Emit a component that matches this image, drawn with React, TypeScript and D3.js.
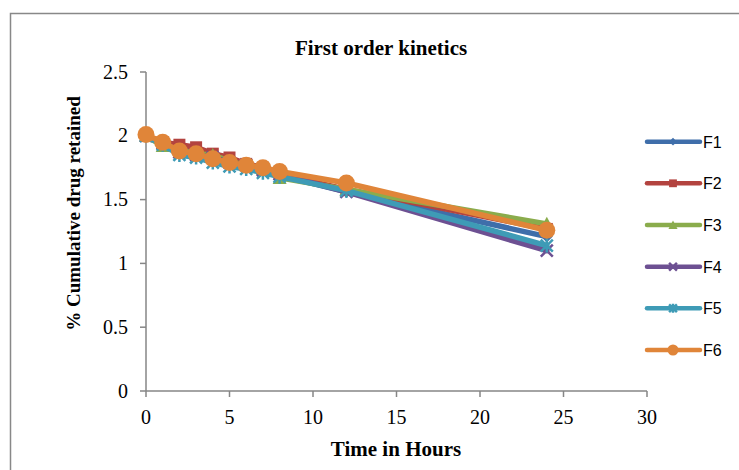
import React from "react";
import * as d3 from "d3";

const times = [0, 1, 2, 3, 4, 5, 6, 7, 8, 12, 24];
const seriesNames = ["F1", "F2", "F3", "F4", "F5", "F6"];
const F1 = [2.0, 1.93, 1.9, 1.87, 1.84, 1.81, 1.78, 1.75, 1.69, 1.56, 1.21];
const F2 = [2.0, 1.95, 1.93, 1.91, 1.86, 1.83, 1.78, 1.75, 1.7, 1.58, 1.27];
const F3 = [2.0, 1.92, 1.89, 1.86, 1.85, 1.8, 1.77, 1.74, 1.67, 1.58, 1.31];
const F4 = [2.0, 1.94, 1.87, 1.85, 1.83, 1.79, 1.77, 1.73, 1.7, 1.56, 1.1];
const F5 = [2.0, 1.93, 1.85, 1.83, 1.79, 1.76, 1.74, 1.71, 1.68, 1.57, 1.14];
const F6 = [2.01, 1.95, 1.88, 1.86, 1.82, 1.79, 1.77, 1.75, 1.72, 1.63, 1.26];
const seriesValues = [F1, F2, F3, F4, F5, F6];
const colors = ["#3f6eaa", "#b3433f", "#8aac4c", "#6d5092", "#3e9bb6", "#e08539"];
const markers = ["diamond", "square", "triangle", "x", "star", "circle"];
const xTicks = [0, 5, 10, 15, 20, 25, 30];
const yTicks = [0, 0.5, 1, 1.5, 2, 2.5];

const W = 739;
const H = 470;
const x = d3.scaleLinear().domain([0, 30]).range([146, 647]);
const y = d3.scaleLinear().domain([0, 2.5]).range([391, 72]);

function Marker({ kind, cx, cy, color, s = 1 }: { kind: string; cx: number; cy: number; color: string; s?: number }) {
  const k = s;
  switch (kind) {
    case "diamond":
      return <path d={`M${cx},${cy - 6 * k}L${cx + 6 * k},${cy}L${cx},${cy + 6 * k}L${cx - 6 * k},${cy}Z`} fill={color} />;
    case "square":
      return <rect x={cx - 6 * k} y={cy - 6 * k} width={12 * k} height={12 * k} fill={color} />;
    case "triangle":
      return <path d={`M${cx},${cy - 7 * k}L${cx + 7 * k},${cy + 6 * k}L${cx - 7 * k},${cy + 6 * k}Z`} fill={color} />;
    case "x":
      return (
        <path
          d={`M${cx - 6 * k},${cy - 6 * k}L${cx + 6 * k},${cy + 6 * k}M${cx + 6 * k},${cy - 6 * k}L${cx - 6 * k},${cy + 6 * k}`}
          stroke={color}
          strokeWidth={2.5}
        />
      );
    case "star":
      return (
        <path
          d={`M${cx - 6 * k},${cy - 6 * k}L${cx + 6 * k},${cy + 6 * k}M${cx + 6 * k},${cy - 6 * k}L${cx - 6 * k},${cy + 6 * k}M${cx},${cy - 7 * k}L${cx},${cy + 7 * k}`}
          stroke={color}
          strokeWidth={2.5}
        />
      );
    default:
      return <circle cx={cx} cy={cy} r={8.5 * k} fill={color} />;
  }
}

export default function App() {
  const line = d3
    .line<number>()
    .x((_, i) => x(times[i]))
    .y((v) => y(v));
  const legendY = [141.7, 183.3, 225, 266.7, 308.3, 350];
  const serif = "'Liberation Serif', 'Times New Roman', serif";
  return (
    <svg width={W} height={H} style={{ position: "absolute", left: 0, top: 0, background: "#fff" }}>
      <rect x={10.5} y={13.5} width={740} height={470} fill="#fff" stroke="#888" strokeWidth={1.5} />
      <text x={381} y={55} textAnchor="middle" fontFamily={serif} fontWeight="bold" fontSize={21}>
        First order kinetics
      </text>
      {/* axes */}
      <line x1={x(0)} x2={x(30)} y1={y(0)} y2={y(0)} stroke="#868686" strokeWidth={1.5} />
      <line x1={x(0)} x2={x(0)} y1={y(0)} y2={y(2.5)} stroke="#868686" strokeWidth={1.5} />
      {yTicks.map((t) => (
        <g key={"y" + t}>
          <line x1={x(0) - 6} x2={x(0)} y1={y(t)} y2={y(t)} stroke="#868686" strokeWidth={1.5} />
          <text x={128} y={y(t) + 6.5} textAnchor="end" fontFamily={serif} fontSize={20}>
            {t}
          </text>
        </g>
      ))}
      {xTicks.map((t) => (
        <g key={"x" + t}>
          <line x1={x(t)} x2={x(t)} y1={y(0)} y2={y(0) + 6} stroke="#868686" strokeWidth={1.5} />
          <text x={x(t)} y={424} textAnchor="middle" fontFamily={serif} fontSize={20}>
            {t}
          </text>
        </g>
      ))}
      <text x={396} y={456} textAnchor="middle" fontFamily={serif} fontWeight="bold" fontSize={21}>
        Time in Hours
      </text>
      <text
        transform={`translate(80,213.5) rotate(-90)`}
        textAnchor="middle"
        fontFamily={serif}
        fontWeight="bold"
        fontSize={19}
      >
        % Cumulative drug retained
      </text>
      {/* series */}
      {seriesValues.map((vals, si) => (
        <g key={seriesNames[si]}>
          <path d={line(vals) || ""} fill="none" stroke={colors[si]} strokeWidth={5.5} strokeLinejoin="round" strokeLinecap="round" />
          {vals.map((v, i) => (
            <Marker key={i} kind={markers[si]} cx={x(times[i])} cy={y(v)} color={colors[si]} />
          ))}
        </g>
      ))}
      {/* legend */}
      {seriesNames.map((n, i) => (
        <g key={"lg" + n}>
          <line x1={647} x2={700} y1={legendY[i]} y2={legendY[i]} stroke={colors[i]} strokeWidth={4.5} strokeLinecap="round" />
          <Marker kind={markers[i]} cx={673} cy={legendY[i]} color={colors[i]} s={0.65} />
          <text x={703} y={legendY[i] + 5.8} fontFamily="'Liberation Sans', Arial, sans-serif" fontSize={16}>
            {n}
          </text>
        </g>
      ))}
    </svg>
  );
}
